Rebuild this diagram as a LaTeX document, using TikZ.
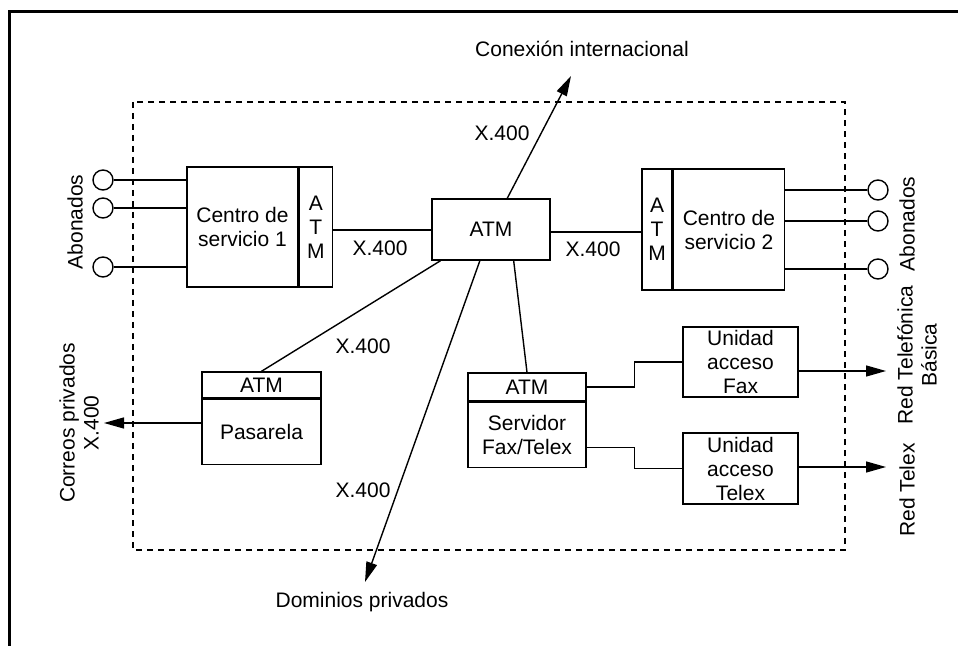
\documentclass[tikz,border=0pt]{standalone}
\usepackage{fontspec}
\setmainfont{Liberation Sans}
\usetikzlibrary{positioning,arrows.meta}
\def\px{0.5pt}
\tikzset{
  box/.style={draw, line width=0.7pt, inner sep=0pt, align=center},
  port/.style={draw, circle, line width=0.7pt, minimum size=20*\px, inner sep=0pt},
  lbl/.style={inner sep=1pt, align=center},
  arr/.style={-{Triangle[length=10pt,width=5.5pt]}},
}
\begin{document}
\begin{tikzpicture}[x=\px, y=-\px, line width=0.7pt, font=\fontsize{10.5}{12}\selectfont]

  \useasboundingbox (0,0) rectangle (958,646);

  %frame
  \draw[line width=1.5pt] (9,646) -- (9,12) -- (958,12);
  \draw[dash pattern=on 3pt off 2.5pt] (133,102) rectangle (845,550);

  %centro de servicio 1
  \node[box, minimum width=111*\px, minimum height=120*\px] (cs1) at (242.5,227) {Centro de\\servicio 1};
  \node[box, minimum width=33*\px, minimum height=120*\px, right=0pt of cs1] (atm1) {A\\T\\M};

  %central ATM
  \node[box, minimum width=118*\px, minimum height=61*\px] (atmc) at (491,229.5) {ATM};

  %centro de servicio 2
  \node[box, minimum width=30*\px, minimum height=121*\px] (atm2) at (657,229.5) {A\\T\\M};
  \node[box, minimum width=111*\px, minimum height=121*\px, right=0pt of atm2] (cs2) {Centro de\\servicio 2};

  %pasarela
  \node[box, minimum width=119*\px, minimum height=26*\px] (pasatm) at (261.5,385) {ATM};
  \node[box, minimum width=119*\px, minimum height=65*\px, below=0pt of pasatm] (pasbody) {Pasarela};

  %servidor
  \node[box, minimum width=118*\px, minimum height=28*\px] (srvatm) at (527,387) {ATM};
  \node[box, minimum width=118*\px, minimum height=65*\px, below=0pt of srvatm] (srvbody) {Servidor\\Fax/Telex};

  %unidades de acceso
  \node[box, minimum width=115*\px, minimum height=70*\px] (fax) at (740.5,362) {Unidad\\acceso\\Fax};
  \node[box, minimum width=115*\px, minimum height=71*\px] (telex) at (740.5,468.5) {Unidad\\acceso\\Telex};

  %abonados
  \foreach \y/\name in {180/al1,208/al2,267/al3}{
    \node[port] (\name) at (103,\y) {};
    \draw (\name) -- (\name -| cs1.west);
  }
  \foreach \y/\name in {190/ar1,221/ar2,269/ar3}{
    \node[port] (\name) at (878,\y) {};
    \draw (\name) -- (\name -| cs2.east);
  }
  \node[lbl, rotate=90] (abl) at (75,222) {Abonados};
  \node[lbl, rotate=90] (abr) at (907,224) {Abonados};

  %end points
  \coordinate (conx) at (571,76);
  \coordinate (dom) at (365,582);
  \coordinate (cpx) at (104,423);
  \coordinate (rtb) at (886,371);
  \coordinate (rtx) at (886,467);

  %connections
  \draw (atm1.east |- 0,230) -- (atmc.west |- 0,230);
  \draw (atmc.east |- 0,232) -- (atm2.west |- 0,232);
  \draw[arr] (atmc) -- (conx);
  \draw[arr] (atmc) -- (dom);
  \draw (pasatm.north) -- (atmc);
  \draw (atmc.-54) -- (srvatm.north);
  \draw[arr] (pasbody.west |- cpx) -- (cpx);
  \draw (srvatm.east) -- ++(48,0) |- (fax.west);
  \draw (srvbody.-12) -- ++(48,0) |- (telex.west);
  \draw[arr] (fax.east |- rtb) -- (rtb);
  \draw[arr] (telex.east |- rtx) -- (rtx);

  %labels
  \foreach \x/\y/\name in {380/248/xa, 593/249/xb, 502/133/xc, 363/346/xd, 363/490/xe}{
    \node[lbl] (\name) at (\x,\y) {X.400};
  }
  \node[lbl] (conlbl) at (582,49) {Conexión internacional};
  \node[lbl] (domlbl) at (362,602) {Dominios privados};
  \node[lbl, rotate=90] (cplbl) at (79,423) {Correos privados\\X.400};
  \node[lbl, rotate=90] (rtblbl) at (917,355) {Red Telefónica\\Básica};
  \node[lbl, rotate=90] (rtxlbl) at (907,490) {Red Telex};

\end{tikzpicture}
\end{document}
